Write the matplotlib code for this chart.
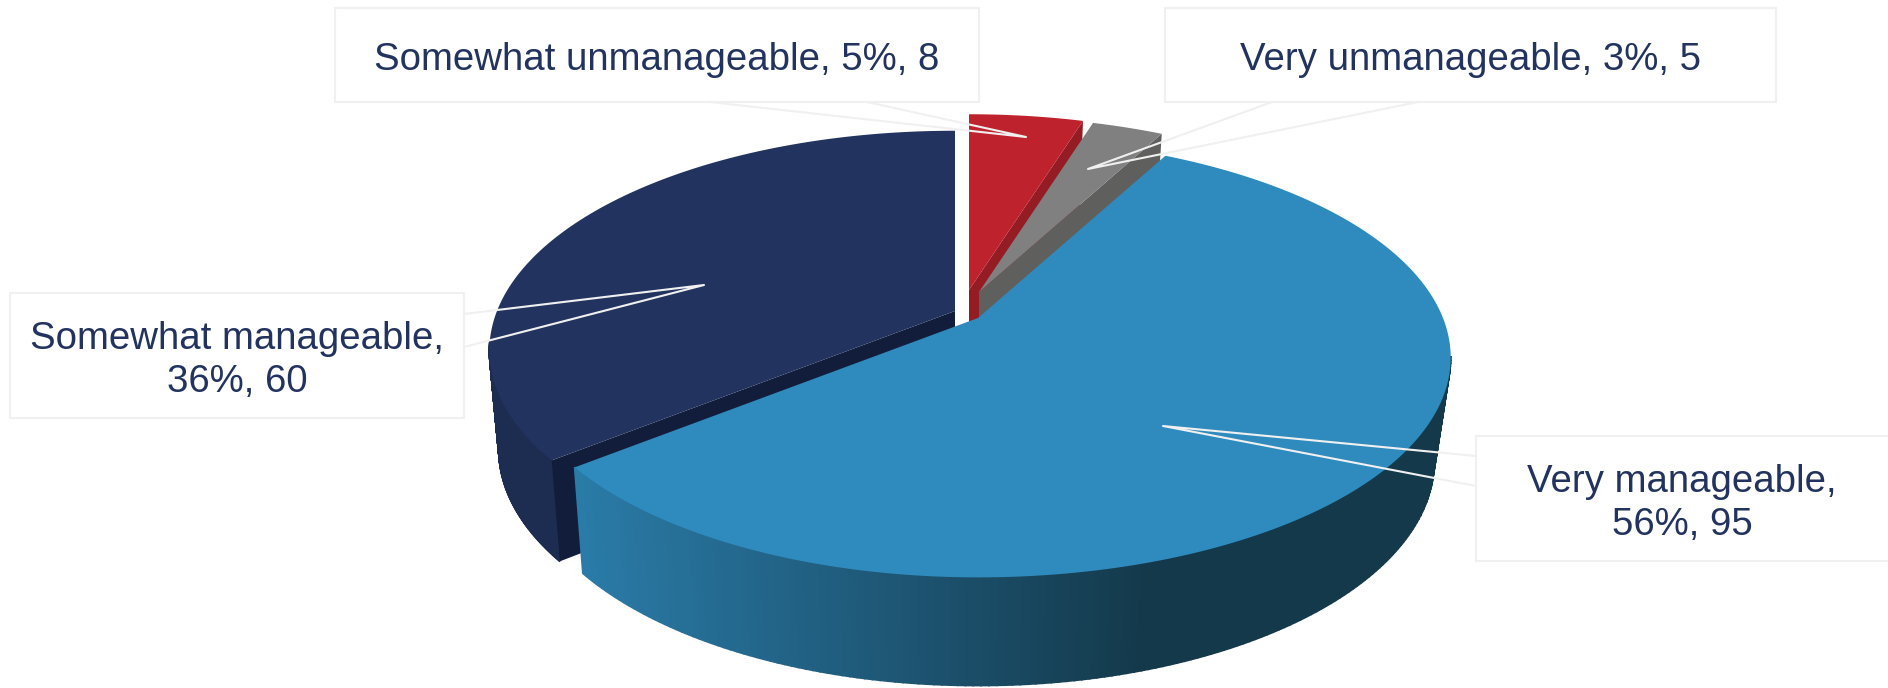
import numpy as np
import matplotlib
matplotlib.use('Agg')
import matplotlib.pyplot as plt
from matplotlib.colors import to_rgb

labels = ['Somewhat unmanageable', 'Very unmanageable', 'Very manageable', 'Somewhat manageable']
counts = [8, 5, 95, 60]
percents = [5, 3, 56, 36]
separators = [', ', ', ', ',\n', ',\n']

top_colors = ['#BE222D', '#808080', '#2F8ABD', '#21335E']
cut_colors = ['#951C24', '#5F5F5E', None, '#121D3B']
text_color = '#22335F'
line_color = '#F0F0F0'

# pixel layout of the fake 3d pie
centers = [(969, 290), (979, 292), (978, 318), (955, 311)]
drops = [103, 103, 103, 98]
radii = [0.975, 0.975, 1.0, 1.0]
A, B, P = 465, 212.7, 0.18
KX, KY = 0.965, 1.02
LEFT_SQUEEZE = 0.985

# box left, top, right, bottom, then tip and two roots of each callout
boxes = [(335, 8, 979, 102), (1165, 8, 1776, 102), (1476, 436, 1892, 561), (10, 293, 464, 418)]
tips = [(1026, 137), (1088, 169), (1163, 426), (704, 285)]
roots = [((710, 102), (867, 102)), ((1272, 102), (1418, 102)),
         ((1476, 456), (1476, 486)), ((464, 314), (464, 347))]

plt.rcParams['font.family'] = ['Liberation Sans', 'DejaVu Sans']


def project(cx, cy, theta, r=1.0, kx=1.0, ky=1.0, drop=0):
    u = np.sin(theta)
    v = -np.cos(theta)
    s = 1 / (1 - P * v)
    a = A * np.ones_like(u)
    if drop == 0:
        a = np.where(u < 0, A * LEFT_SQUEEZE, A)
    return cx + r * kx * a * u * s, cy + drop + r * ky * B * v * s


def blue_wall_color(x):
    t = np.clip((x - 580) / (1150 - 580), 0, 1)
    c0 = np.array(to_rgb('#2A7BA8'))
    c1 = np.array(to_rgb('#14394B'))
    return c0 + (c1 - c0) * t


fig = plt.figure(figsize=(18.88, 6.88), dpi=100)
ax = fig.add_axes([0, 0, 1, 1])
ax.set_xlim(0, 1888)
ax.set_ylim(688, 0)
ax.axis('off')

edges = np.radians(np.concatenate([[0], np.cumsum(counts)]) / np.sum(counts) * 360)


def draw_wall(i, start, stop, color=None):
    cx, cy = centers[i]
    th = np.linspace(start, stop, 161)
    x0, y0 = project(cx, cy, th, radii[i])
    x1, y1 = project(cx, cy, th, radii[i], KX, KY, drops[i])
    for j in range(len(th) - 1):
        c = color
        if c is None:
            c = blue_wall_color(x0[j])
        ax.fill([x0[j], x0[j + 1], x1[j + 1], x1[j]], [y0[j], y0[j + 1], y1[j + 1], y1[j]],
                color=c, lw=1.2, zorder=2)


def draw_cut(i, theta):
    cx, cy = centers[i]
    x0, y0 = project(cx, cy, theta, radii[i])
    x1, y1 = project(cx, cy, theta, radii[i], KX, KY, drops[i])
    ax.fill([cx, x0, x1, cx], [cy, y0, y1, cy + drops[i]], color=cut_colors[i], lw=0, zorder=2)


def draw_top(i):
    cx, cy = centers[i]
    th = np.linspace(edges[i], edges[i + 1], 200)
    x, y = project(cx, cy, th, radii[i])
    ax.fill(np.r_[cx, x], np.r_[cy, y], color=top_colors[i], lw=0, zorder=2)


# back to front, walls only from where they can be seen
draw_wall(3, edges[3], np.radians(262), '#1D2D52')
draw_cut(3, edges[3])
draw_top(3)
draw_cut(0, edges[1])
draw_top(0)
draw_cut(1, edges[2])
draw_top(1)
draw_wall(2, np.radians(100), edges[3])
draw_top(2)

for i in range(len(labels)):
    x0, y0, x1, y1 = boxes[i]
    ax.fill([x0, x1, x1, x0], [y0, y0, y1, y1], facecolor='white', edgecolor=line_color, lw=1.5, zorder=3)
    ax.plot([roots[i][0][0], tips[i][0], roots[i][1][0]], [roots[i][0][1], tips[i][1], roots[i][1][1]],
            color=line_color, lw=1.5, zorder=4)
    txt = labels[i] + separators[i] + str(percents[i]) + '%, ' + str(counts[i])
    ax.text((x0 + min(x1, 1888)) / 2, (y0 + y1) / 2 + 5, txt, color=text_color, fontsize=27.6,
            ha='center', va='center', linespacing=1.25, zorder=5)

fig.savefig('out.png', dpi=100, facecolor='white')
